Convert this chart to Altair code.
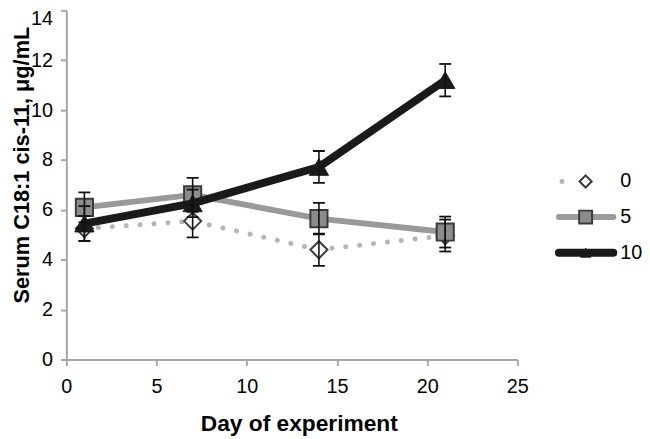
import altair as alt
import pandas as pd

# ---- data ----
days = [1, 7, 14, 21]
series_labels = ["0", "5", "10"]
vals_0 = [5.25, 5.55, 4.40, 4.97]
err_0 = [0.50, 0.65, 0.65, 0.64]
vals_5 = [6.10, 6.60, 5.65, 5.11]
err_5 = [0.60, 0.68, 0.63, 0.62]
vals_10 = [5.45, 6.26, 7.72, 11.20]
err_10 = [0.70, 0.55, 0.64, 0.65]
x_ticks = [0, 5, 10, 15, 20, 25]
y_ticks = [0, 2, 4, 6, 8, 10, 12, 14]
x_title = "Day of experiment"
y_title = "Serum C18:1 cis-11, μg/mL"

rows = []
for lab, vals, errs in zip(series_labels, [vals_0, vals_5, vals_10], [err_0, err_5, err_10]):
    for d, v, e in zip(days, vals, errs):
        rows.append({"series": lab, "day": d, "value": v, "lo": v - e, "hi": v + e})
df = pd.DataFrame(rows)

# ---- styles ----
styles = {
    "0": dict(line="#b5b5b5", width=5, dash=[0.1, 14], shape="diamond", fill="#ffffff",
              stroke="#3a3a3a", sw=2, size=300, lsize=150),
    "5": dict(line="#999999", width=6, dash=None, shape="square", fill="#8c8c8c",
              stroke="#3a3a3a", sw=2, size=300, lsize=170),
    "10": dict(line="#1a1a1a", width=8, dash=None, shape="triangle-up", fill="#1a1a1a",
               stroke="#1a1a1a", sw=1, size=380, lsize=110),
}

FONT = "Liberation Sans"

x_axis = alt.Axis(values=x_ticks, grid=False, domainColor="#a6a6a6", domainWidth=2,
                  tickColor="#a6a6a6", tickWidth=2, tickSize=6, labelFont=FONT,
                  labelFontSize=20, labelColor="#000000", labelPadding=11, labelFlush=False,
                  title=x_title, titleFont=FONT, titleFontSize=23, titleFontWeight="bold",
                  titleColor="#000000", titleX=235, titleY=72, titleBaseline="alphabetic",
                  titleAlign="center")
y_axis = alt.Axis(values=y_ticks, grid=False, domainColor="#a6a6a6", domainWidth=2,
                  tickColor="#a6a6a6", tickWidth=2, tickSize=6, labelFont=FONT,
                  labelFontSize=20, labelColor="#000000", labelPadding=8, labelFlush=False,
                  labelOffset={"condition": {"test": "datum.value == 14", "value": 8}, "value": 0},
                  title=y_title, titleFont=FONT, titleFontSize=22, titleFontWeight="bold",
                  titleColor="#000000", titleX=-38, titleY=156, titleBaseline="alphabetic",
                  titleAlign="center", titleAngle=270)

X = alt.X("day:Q", scale=alt.Scale(domain=[0, 25], nice=False, zero=False), axis=x_axis)
Y = alt.Y("value:Q", scale=alt.Scale(domain=[0, 14], nice=False), axis=y_axis)

base = alt.Chart(df)
layers = []
for lab in series_labels:
    st = styles[lab]
    sub = base.transform_filter(alt.datum.series == lab)
    line_kw = dict(color=st["line"], strokeWidth=st["width"], strokeCap="round", strokeJoin="round")
    if st["dash"]:
        line_kw["strokeDash"] = st["dash"]
    layers.append(sub.mark_line(**line_kw).encode(x=X, y=Y))
    layers.append(sub.mark_point(shape=st["shape"], filled=True, fill=st["fill"], stroke=st["stroke"],
                                 strokeWidth=st["sw"], size=st["size"], opacity=1).encode(x=X, y=Y))

# error bars
Ylo = alt.Y("lo:Q", scale=alt.Scale(domain=[0, 14], nice=False), axis=y_axis)
Yhi = alt.Y("hi:Q", scale=alt.Scale(domain=[0, 14], nice=False), axis=y_axis)
layers.append(base.mark_rule(color="#111111", strokeWidth=1.6).encode(x=X, y=Ylo, y2="hi:Q"))
layers.append(base.mark_tick(orient="horizontal", color="#111111", size=12, thickness=1.8, opacity=1)
              .encode(x=X, y=Ylo))
layers.append(base.mark_tick(orient="horizontal", color="#111111", size=12, thickness=1.8, opacity=1)
              .encode(x=X, y=Yhi))

# legend (manual, drawn in plot pixel space)
leg_rows_y = [173, 209, 245]
leg_x0, leg_x1, leg_mark_x, leg_text_x = 498, 553, 525, 560
one = alt.Data(values=[{"k": 1}])
for lab, ly in zip(series_labels, leg_rows_y):
    st = styles[lab]
    rk = dict(color=st["line"], strokeWidth=st["width"], strokeCap="round")
    if st["dash"]:
        rk["strokeDash"] = [0.1, 24]
        x0, x1 = leg_x0 + 3, leg_mark_x + 3
    else:
        x0, x1 = leg_x0, leg_x1
    layers.append(alt.Chart(one).mark_rule(**rk).encode(
        x=alt.value(x0), x2=alt.value(x1), y=alt.value(ly)))
    layers.append(alt.Chart(one).mark_point(shape=st["shape"], filled=True, fill=st["fill"],
                                            stroke=st["stroke"], strokeWidth=st["sw"],
                                            size=st["lsize"], opacity=1).encode(
        x=alt.value(leg_mark_x), y=alt.value(ly)))
    layers.append(alt.Chart(one).mark_text(align="left", baseline="middle", font=FONT,
                                           fontSize=20, color="#000000").encode(
        x=alt.value(leg_text_x), y=alt.value(ly), text=alt.value(lab)))

chart = alt.layer(*layers).properties(
    width=456, height=353,
    autosize=alt.AutoSizeParams(type="none"),
    padding={"left": 59, "top": 0, "right": 126, "bottom": 78},
).configure_view(stroke="transparent")

chart.save("out.html", embed_options={"renderer": "svg", "actions": False})
